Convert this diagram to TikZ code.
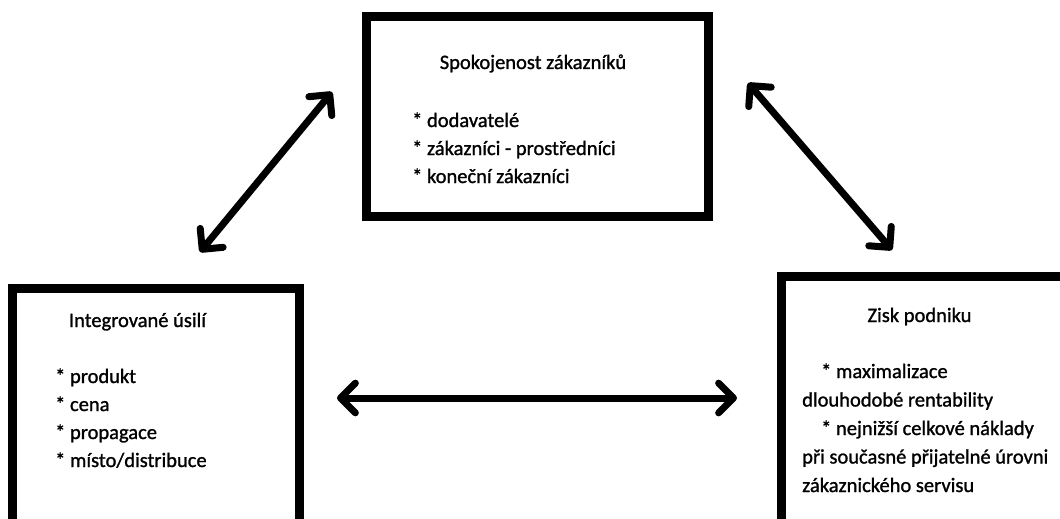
\documentclass[tikz,border=0pt]{standalone}
\usepackage{fontspec}
\setmainfont{Carlito}[FakeBold=1.2]
\usetikzlibrary{arrows.meta}
\tikzset{
  frame/.style={draw,line width=9pt,line join=miter,line cap=butt,inner sep=0pt},
  link/.style={line width=7pt,{Straight Barb[angle=90:21pt,round]}-{Straight Barb[angle=90:21pt,round]}},
  txt/.style={anchor=base west,inner sep=0pt}
}
\begin{document}
\begin{tikzpicture}[x=1pt,y=-1pt,line join=round,line cap=round,font=\fontsize{20.5}{28}\selectfont]
		\useasboundingbox (0,0) rectangle (1060,519);
		\clip (0,0) rectangle (1060,519);
		% boxes
		\node[frame,minimum width=342pt,minimum height=199.5pt] (spok) at (537,116.25) {};
		\node[frame,minimum width=286.5pt,minimum height=272pt] (usili) at (155.75,424) {};
		\node[frame,minimum width=328.5pt,minimum height=246.5pt] (zisk) at (945.75,399.75) {};
		\node[anchor=base,inner sep=0pt] (spok-t) at (533,69) {Spokojenost zákazníků};
		\node[anchor=base,inner sep=0pt] (usili-t) at (137.5,327) {Integrované úsilí};
		\node[anchor=base,inner sep=0pt] (zisk-t) at (919.5,322) {Zisk podniku};
		\foreach \t [count=\i] in {dodavatelé, zákazníci - prostředníci, koneční zákazníci}
			\node[txt] (spok-\i) at (412,{127+28*(\i-1)}) {* \t};
		\foreach \t [count=\i] in {produkt, cena, propagace, místo/distribuce}
			\node[txt] (usili-\i) at (55,{383+28*(\i-1)}) {* \t};
		\foreach \x/\t [count=\i] in {821/* maximalizace, 802/dlouhodobé rentability, 821/* nejnižší celkové náklady, 802/při současné přijatelné úrovni, 802/zákaznického servisu}
			\node[txt] (zisk-\i) at (\x,{378+28.5*(\i-1)}) {\t};
		% arrows
		\coordinate (a1) at (200,252); \coordinate (a2) at (332,92);
		\coordinate (b1) at (748,83); \coordinate (b2) at (892,250);
		\coordinate (c1) at (337,398); \coordinate (c2) at (737,398);
		\draw[link] (a1)--(a2);
		\draw[link] (b1)--(b2);
		\draw[link] (c1)--(c2);
\end{tikzpicture}
\end{document}
